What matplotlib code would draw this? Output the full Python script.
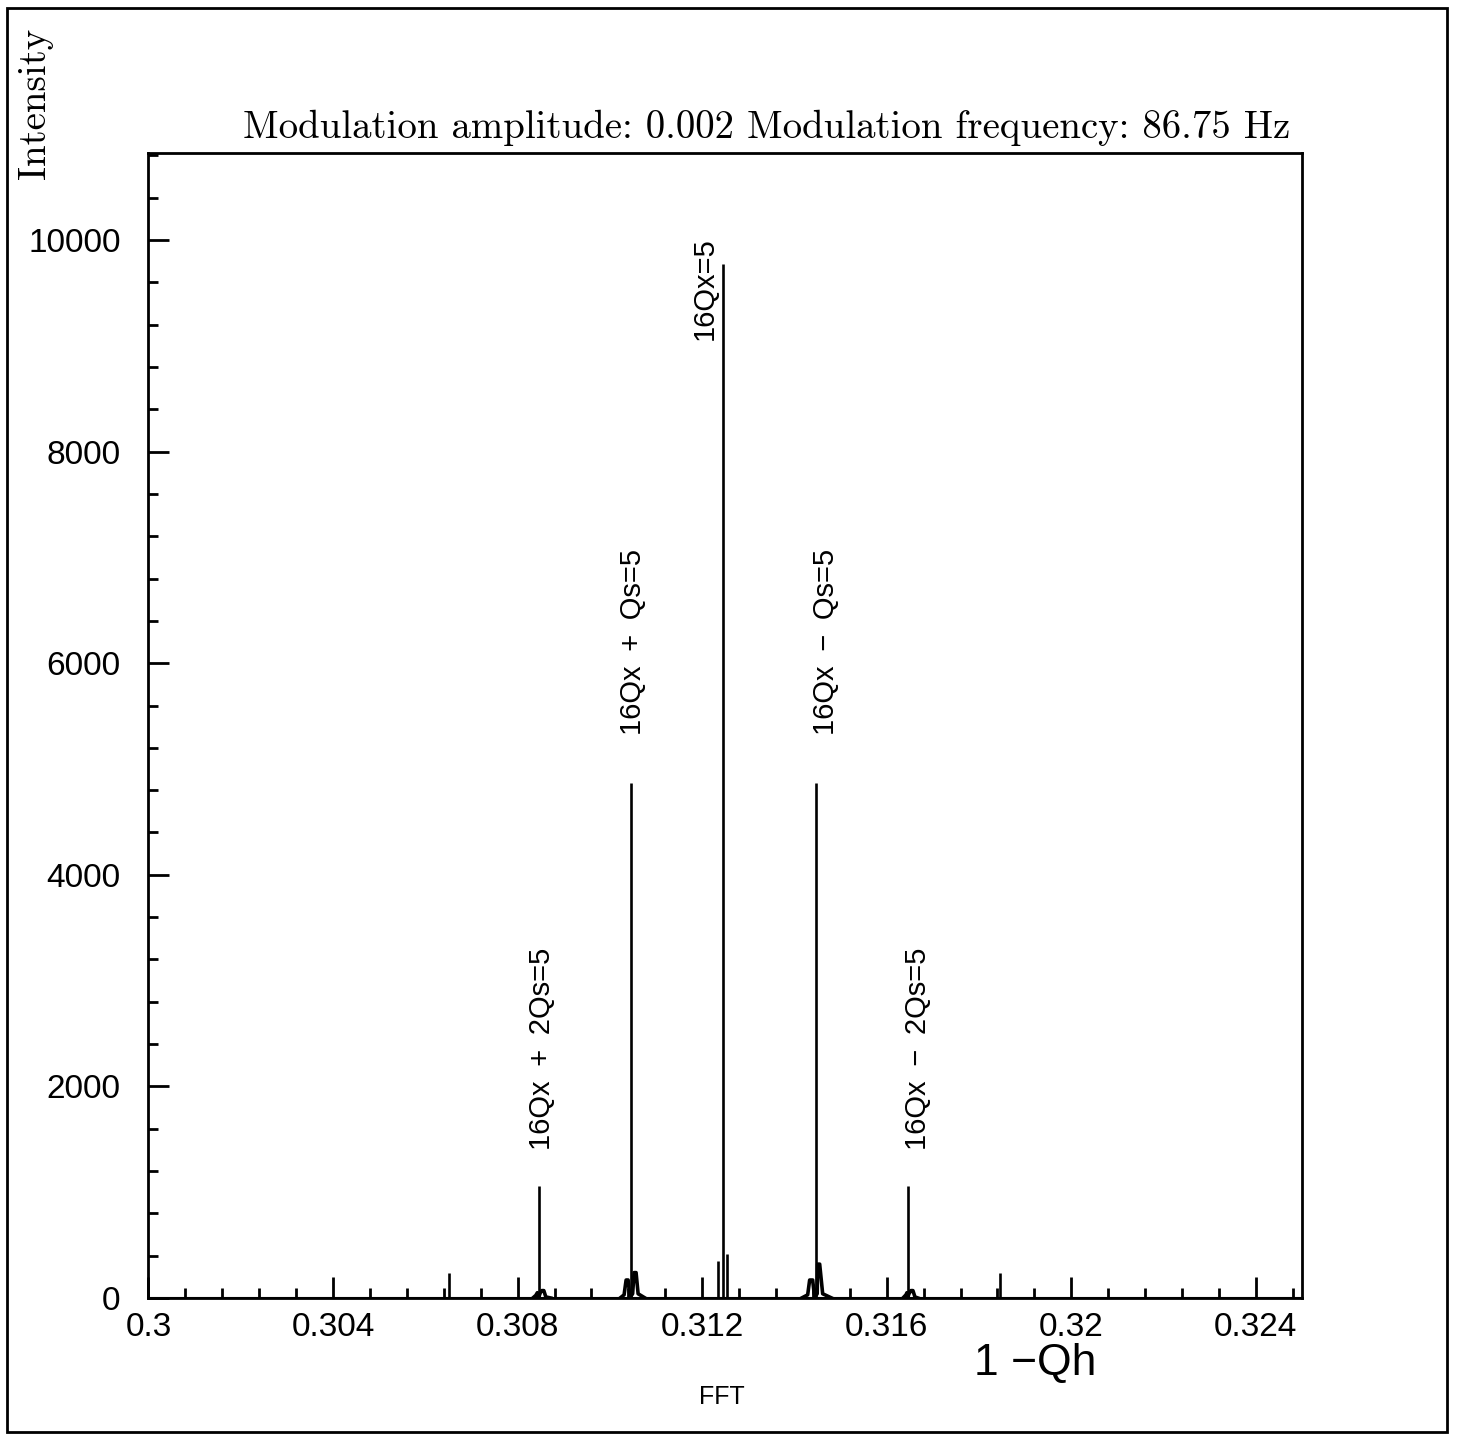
import matplotlib
matplotlib.use("Agg")
import matplotlib.pyplot as plt
from matplotlib.ticker import MultipleLocator, FuncFormatter
from matplotlib.patches import Rectangle

plt.rcParams['font.family'] = ['Liberation Sans', 'DejaVu Sans']

# sharp spectral lines (1-Qh, intensity)
line_q = [0.30651, 0.30846, 0.31046, 0.312347, 0.31246, 0.312541, 0.31446, 0.31646, 0.31845]
line_i = [240, 1060, 4870, 350, 9770, 415, 4870, 1060, 240]

# broadened bases around the synchrotron side bands
skirt_a_q = [0.30833, 0.308395, 0.308428, 0.30846, 0.308493, 0.308525, 0.308568, 0.308612, 0.30872]
skirt_a_i = [0, 25, 50, 10, 50, 70, 70, 10, 0]
skirt_b_q = [0.310222, 0.310308, 0.310352, 0.310395, 0.310428, 0.31046, 0.310493, 0.310525, 0.310568, 0.310612, 0.310763]
skirt_b_i = [0, 30, 170, 170, 40, 20, 40, 240, 240, 40, 0]
skirt_d_q = [0.314157, 0.314287, 0.31433, 0.314395, 0.314428, 0.31446, 0.314493, 0.314503, 0.314547, 0.314612, 0.314807]
skirt_d_i = [0, 30, 170, 170, 40, 20, 40, 320, 320, 40, 0]
skirt_e_q = [0.316352, 0.316417, 0.316438, 0.31646, 0.316482, 0.316525, 0.316568, 0.316612, 0.316677]
skirt_e_i = [0, 30, 50, 10, 40, 70, 70, 10, 0]

# resonance labels: text, x position, bottom of text
label_text = ['16Qx\u2002+\u20022Qs=5', '16Qx\u2002+\u2002Qs=5', '16Qx=5',
              '16Qx\u2002\u2212\u2002Qs=5', '16Qx\u2002\u2212\u20022Qs=5']
label_q = [0.308527, 0.31050, 0.312059, 0.31468, 0.316674]
label_y = [1400, 5320, 9055, 5320, 1400]

fig = plt.figure(figsize=(14.57, 14.36), dpi=100)
ax = fig.add_axes([0.1019, 0.0961, 0.7917, 0.7973])

ax.plot([0.3, 0.325], [0, 0], color='black', lw=1.5)
for sq, si in [(skirt_a_q, skirt_a_i), (skirt_b_q, skirt_b_i),
               (skirt_d_q, skirt_d_i), (skirt_e_q, skirt_e_i)]:
    ax.plot(sq, si, color='black', lw=2.6)
ax.vlines(line_q, 0, line_i, color='black', lw=1.9)

for t, q, y in zip(label_text, label_q, label_y):
    ax.text(q, y, t, rotation=90, ha='center', va='bottom', fontsize=21)

ax.set_xlim(0.3, 0.325)
ax.set_ylim(0, 10822)
ax.xaxis.set_major_locator(MultipleLocator(0.004))
ax.xaxis.set_minor_locator(MultipleLocator(0.0008))
ax.yaxis.set_major_locator(MultipleLocator(2000))
ax.yaxis.set_minor_locator(MultipleLocator(400))
ax.xaxis.set_major_formatter(FuncFormatter(lambda v, p: f'{v:g}'))
ax.tick_params(which='both', direction='in', top=False, right=False, width=2, labelsize=24)
ax.tick_params(which='major', length=15)
ax.tick_params(which='minor', length=7.5)
ax.tick_params(axis='x', pad=10)
ax.tick_params(axis='y', pad=20)
for s in ax.spines.values():
    s.set_linewidth(2)

fig.text(1290 / 1457, 1 - 128 / 1436, 'Modulation amplitude: 0.002 Modulation frequency: 86.75 Hz',
         family='cmr10', fontsize=28, ha='right', va='center')
fig.text(35 / 1457, 1 - 28 / 1436, 'Intensity', family='cmr10', fontsize=28,
         rotation=90, ha='center', va='top')
fig.text(1035 / 1457, 1 - 1343 / 1436, '1 \u2212Qh', fontsize=32, ha='center', va='top')
fig.text(722 / 1457, 1 - 1397 / 1436, 'FFT', fontsize=18, ha='center', va='center')

fig.patches.append(Rectangle((7 / 1457, 4 / 1436), 1440 / 1457, 1424 / 1436,
                             transform=fig.transFigure, fill=False, lw=2, color='black'))

fig.savefig('out.png', dpi=100)
